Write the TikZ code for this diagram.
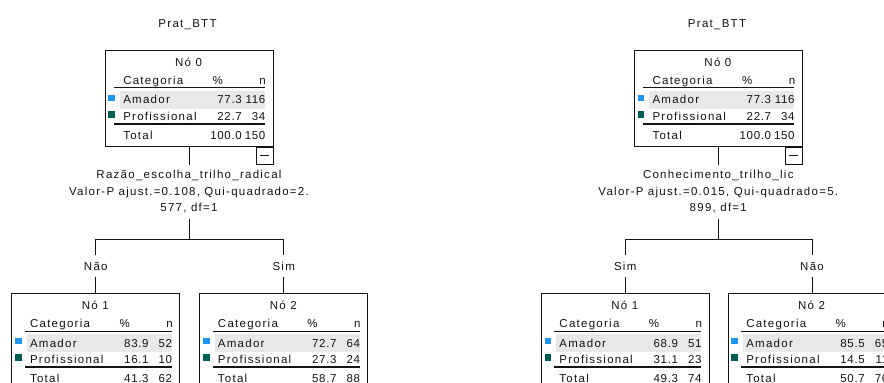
\documentclass[tikz,border=0pt]{standalone}
\usepackage{fontspec}
\setmainfont{Liberation Sans}[LetterSpace=11]
\definecolor{amadorblue}{HTML}{1E96F0}
\definecolor{profgreen}{HTML}{005F55}
\definecolor{rowgray}{HTML}{E8E8E8}
\definecolor{ink}{HTML}{141414}

\tikzset{
  txt/.style={inner sep=0pt, text=ink, font=\fontsize{11.5}{13}\selectfont},
  num/.style={txt, anchor=base east, font=\fontsize{11.5}{13}\selectfont\addfontfeature{LetterSpace=6}},
  treebox/.style={draw=ink, line width=0.9pt, minimum width=168pt, minimum height=96pt, inner sep=0pt, anchor=north},
  rule/.style={draw=ink, line width=0.9pt},
  conn/.style={draw=ink, line width=1pt},
  splitlbl/.style={txt, align=center, anchor=north, inner ysep=5pt, font=\fontsize{11.5}{16.7}\selectfont},
  branchlbl/.style={txt, anchor=base, text height=8pt, text depth=0pt, inner ysep=6.5pt},
  minusbox/.style={draw=ink, line width=0.9pt, minimum size=17pt, inner sep=0pt, anchor=north east,
    path picture={\draw[line width=1pt, ink] ([xshift=4pt]path picture bounding box.west) -- ([xshift=-4pt]path picture bounding box.east);}}
}

% frame, rules and row headings of one tree node
\newcommand\treetable[5]{%
  \node[treebox] (#1) at (#2,#3) {};
  \begin{scope}[shift={(#1.north west)}]
    \fill[rowgray] (15.5,41) rectangle (160.5,58.5);
    \draw[rule] (#5,37.7) -- (160.5,37.7);
    \draw[rule, line width=2pt] (#5,73.5) -- (160.5,73.5);
    \fill[amadorblue] (3.8,44.5) rectangle (10.3,51);
    \fill[profgreen] (3.8,61) rectangle (10.3,67.5);
    \node[txt, anchor=base] (#1-title) at (84,16) {#4};
    \node[txt, anchor=base west] (#1-cat) at (18.5,34.5) {Categoria};
    \node[txt, anchor=base] (#1-pc) at (113.3,34.5) {\%};
    \node[txt, anchor=base east] (#1-n) at (161.5,34.5) {n};
    \node[txt, anchor=base west] (#1-a) at (18.5,53.8) {Amador};
    \node[txt, anchor=base west] (#1-p) at (18.5,70) {Profissional};
    \node[txt, anchor=base west] (#1-tot) at (18.5,89.3) {Total};
  \end{scope}}

% percentages and counts of one tree node
\newcommand\treevalues[7]{%
  \begin{scope}[shift={(#1.north west)}]
    \node[num] (#1-pa) at (137.5,53.8) {#2};
    \node[num] (#1-na) at (161,53.8) {#3};
    \node[num] (#1-pp) at (137.5,70) {#4};
    \node[num] (#1-np) at (161,70) {#5};
    \node[num] (#1-pt) at (137.5,89.3) {#6};
    \node[num] (#1-nt) at (161,89.3) {#7};
  \end{scope}}

\begin{document}
\begin{tikzpicture}[x=1pt, y=-1pt]
  \fill[white] (0,0) rectangle (884,383);
  \useasboundingbox (0,0) rectangle (884,383);
  \clip (0,0) rectangle (884,383);

  % ---- left tree: Razão_escolha_trilho_radical ----
  \node[txt, anchor=base] (ha) at (187.5,27.3) {Prat\_BTT};
  \treetable{a0}{189}{50}{Nó 0}{9}
  \treevalues{a0}{77.3}{116}{22.7}{34}{100.0}{150}
  \node[minusbox] (a0m) at (a0.south east) {};
  \node[splitlbl] (sa) at (189,165) {Razão\_escolha\_trilho\_radical\\Valor-P ajust.=0.108, Qui-quadrado=2.\\577, df=1};
  \coordinate (ja) at (189,239);
  \node[branchlbl] (la1) at (95.8,270) {Não};
  \node[branchlbl] (la2) at (283.7,270) {Sim};
  \treetable{a1}{95.8}{293.3}{Nó 1}{13.5}
  \treevalues{a1}{83.9}{52}{16.1}{10}{41.3}{62}
  \treetable{a2}{283.7}{293.3}{Nó 2}{13.5}
  \treevalues{a2}{72.7}{64}{27.3}{24}{58.7}{88}
  \draw[conn] (a0.south) -- (sa.north);
  \draw[conn] (sa.south) -- (ja);
  \draw[conn] (la1.north) -- (la1.north |- ja) -- (la2.north |- ja) -- (la2.north);
  \draw[conn] (la1.south) -- (a1.north);
  \draw[conn] (la2.south) -- (a2.north);

  % ---- right tree: Conhecimento_trilho_lic ----
  \node[txt, anchor=base] (hb) at (717,27.3) {Prat\_BTT};
  \treetable{b0}{718.3}{50}{Nó 0}{9}
  \treevalues{b0}{77.3}{116}{22.7}{34}{100.0}{150}
  \node[minusbox] (b0m) at (b0.south east) {};
  \node[splitlbl] (sb) at (718.3,165) {Conhecimento\_trilho\_lic\\Valor-P ajust.=0.015, Qui-quadrado=5.\\899, df=1};
  \coordinate (jb) at (718.3,239);
  \node[branchlbl] (lb1) at (625.2,270) {Sim};
  \node[branchlbl] (lb2) at (812,270) {Não};
  \treetable{b1}{625.2}{293.3}{Nó 1}{13.5}
  \treevalues{b1}{68.9}{51}{31.1}{23}{49.3}{74}
  \treetable{b2}{812}{293.3}{Nó 2}{13.5}
  \treevalues{b2}{85.5}{65}{14.5}{11}{50.7}{76}
  \draw[conn] (b0.south) -- (sb.north);
  \draw[conn] (sb.south) -- (jb);
  \draw[conn] (lb1.north) -- (lb1.north |- jb) -- (lb2.north |- jb) -- (lb2.north);
  \draw[conn] (lb1.south) -- (b1.north);
  \draw[conn] (lb2.south) -- (b2.north);
\end{tikzpicture}
\end{document}
